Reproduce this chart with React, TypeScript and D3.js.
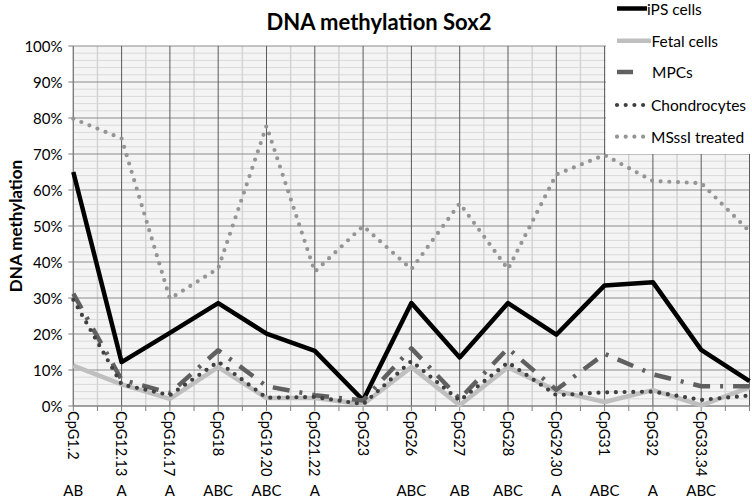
import React from 'react';
import * as d3 from 'd3';

const categories = ["CpG1.2","CpG12.13","CpG16.17","CpG18","CpG19.20","CpG21.22","CpG23","CpG26","CpG27","CpG28","CpG29.30","CpG31","CpG32","CpG33.34",""];
const groupLabels = ["AB","A","A","ABC","ABC","A","","ABC","AB","ABC","A","ABC","A","ABC",""];
const yTicks = [0,10,20,30,40,50,60,70,80,90,100];

const iPS = [65,12.2,20.3,28.6,20.1,15.3,1.6,28.6,13.5,28.6,19.8,33.5,34.4,15.6,6.9];
const fetal = [11.2,6,2,10.8,2.2,2.2,0.5,10.8,0.2,10.8,4.2,1.1,4.4,0.2,5.2];
const mpcs = [31.2,7.3,3.6,15.5,5.5,3,1.5,16,2,16,4.5,14.5,8.8,5.5,5.5];
const chondro = [29.5,6,3,12.3,2.3,2.5,0.5,12.5,1.5,12.1,3,3.8,4,1.7,2.9];
const msssi = [79.8,74.3,29.8,38.2,77.8,37.3,50,38,56.3,38,64.3,69.7,62.5,61.9,48.5];

const seriesNames = ["iPS cells","Fetal cells","MPCs","Chondrocytes","MSssI treated"];

const W = 752, H = 499;
const left = 73.3, right = 749.5, top = 46, bottom = 406;
const FONT = "Lato, 'DejaVu Sans', sans-serif";

export default function App() {
  const n = categories.length;
  const x = d3.scaleLinear().domain([0, n - 1]).range([left, right]);
  const y = d3.scaleLinear().domain([0, 100]).range([bottom, top]);
  const line = d3.line<number>().x((_, i) => x(i)).y(d => y(d));

  const styles = [
    { stroke: "#000000", width: 4.5, dash: undefined as string | undefined, cap: "butt" },
    { stroke: "#bfbfbf", width: 4.5, dash: undefined, cap: "butt" },
    { stroke: "#606060", width: 4.5, dash: "17 10 3 10", cap: "butt" },
    { stroke: "#404040", width: 4.2, dash: "0 8.7", cap: "round" },
    { stroke: "#959595", width: 4.2, dash: "0 8.7", cap: "round" },
  ];
  const data = [iPS, fetal, mpcs, chondro, msssi];
  const series = seriesNames.map((name, k) => ({ name, values: data[k], ...styles[k] }));

  const minorY = d3.range(2, 100, 2).filter(v => v % 10 !== 0);
  const minorX = d3.range(0.5, n - 1, 1);

  const legendY = [8.5, 40.7, 72, 105, 136.7];
  const legendLine = [[617, 647], [617, 651], [617, 633], [617, 648], [617, 648]];
  const legendTextX = [647, 651.5, 652, 651, 651];

  return (
    <svg width={W} height={H} style={{ position: "absolute", left: 0, top: 0, background: "#fff" }} fontFamily={FONT}>
      <rect x={0} y={0} width={W} height={H} fill="#fff" />
      <rect x={left} y={top} width={right - left} height={bottom - top} fill="#f4f4f4" />
      {minorY.map(v => (
        <line key={"my" + v} x1={left} x2={right} y1={y(v)} y2={y(v)} stroke="#d9d9d9" strokeWidth={1} />
      ))}
      {minorX.map(v => (
        <line key={"mx" + v} x1={x(v)} x2={x(v)} y1={top} y2={bottom} stroke="#d4d4d4" strokeWidth={1.5} />
      ))}
      {yTicks.map(v => (
        <line key={"gy" + v} x1={left} x2={right} y1={y(v)} y2={y(v)} stroke="#8c8c8c" strokeWidth={1} />
      ))}
      {d3.range(0, n).map(i => (
        <line key={"gx" + i} x1={x(i)} x2={x(i)} y1={top} y2={bottom} stroke="#5a5a5a" strokeWidth={1} />
      ))}
      <line x1={left} x2={left} y1={top} y2={bottom} stroke="#7f7f7f" strokeWidth={1} />
      <line x1={left} x2={right} y1={bottom} y2={bottom} stroke="#7f7f7f" strokeWidth={1} />
      {yTicks.map(v => (
        <line key={"ty" + v} x1={left - 5} x2={left} y1={y(v)} y2={y(v)} stroke="#7f7f7f" strokeWidth={1} />
      ))}
      {d3.range(0, n - 0.5, 0.5).map(v => (
        <line key={"tx" + v} x1={x(v)} x2={x(v)} y1={bottom} y2={bottom + 5} stroke="#7f7f7f" strokeWidth={1} />
      ))}
      {yTicks.map(v => (
        <text key={"yl" + v} x={62.5} y={y(v)} textAnchor="end" dominantBaseline="central" fontSize={15} fill="#000">
          {v + "%"}
        </text>
      ))}
      {categories.map((c, i) => (
        <text key={"xl" + i} transform={`translate(${x(i)},${bottom + 5}) rotate(90)`} textAnchor="start" dominantBaseline="central" fontSize={14.5} fill="#000">
          {c}
        </text>
      ))}
      {groupLabels.map((g, i) => (
        <text key={"gl" + i} x={x(i)} y={489.5} textAnchor="middle" dominantBaseline="central" fontSize={15} fill="#000">
          {g}
        </text>
      ))}
      {series.map(s => (
        <path key={s.name} d={line(s.values) || ""} fill="none" stroke={s.stroke} strokeWidth={s.width}
          strokeDasharray={s.dash} strokeLinecap={s.cap as any} strokeLinejoin="round" />
      ))}
      <text x={379} y={21} textAnchor="middle" dominantBaseline="central" fontSize={22} fontWeight="bold" fill="#000">
        DNA methylation Sox2
      </text>
      <text transform={`translate(15,226) rotate(-90)`} textAnchor="middle" dominantBaseline="central" fontSize={17} fontWeight="bold" fill="#000">
        DNA methylation
      </text>
      <rect x={606} y={0} width={W - 606} height={154} fill="#fff" />
      {series.map((s, k) => (
        <g key={"lg" + k}>
          <line x1={legendLine[k][0]} x2={legendLine[k][1]} y1={legendY[k]} y2={legendY[k]} stroke={s.stroke}
            strokeWidth={s.width} strokeDasharray={k === 2 ? undefined : s.dash} strokeLinecap={s.cap as any} />
          <text x={legendTextX[k]} y={legendY[k]} dominantBaseline="central" fontSize={15.5} fill="#000">{s.name}</text>
        </g>
      ))}
    </svg>
  );
}
